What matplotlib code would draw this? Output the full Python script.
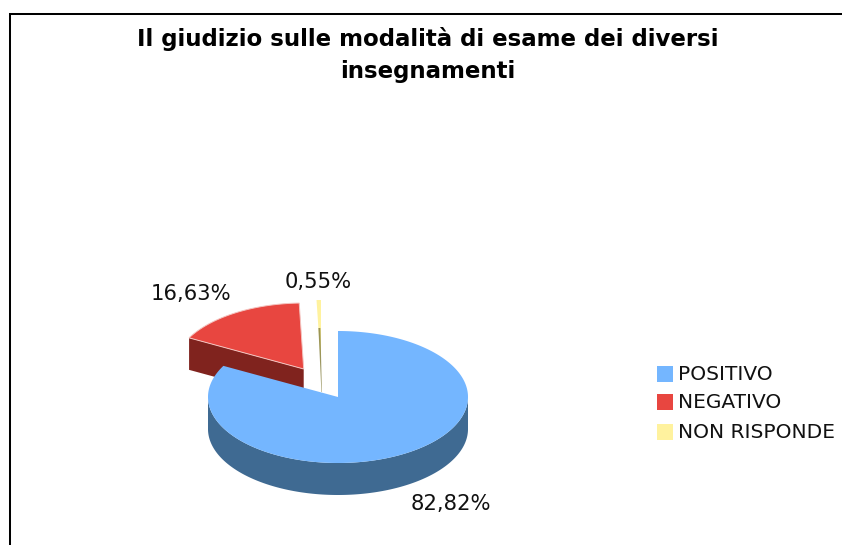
import numpy as np
import matplotlib
matplotlib.use("Agg")
import matplotlib.pyplot as plt
from matplotlib.patches import Rectangle

categories = ["POSITIVO", "NEGATIVO", "NON RISPONDE"]
values = [82.82, 16.63, 0.55]
pct_labels = ["82,82%", "16,63%", "0,55%"]
title = "Il giudizio sulle modalità di esame dei diversi\ninsegnamenti"

colors = ["#74B6FF", "#E84640", "#FFF29E"]
dark = ["#3F6A92", "#80231E", "#8A8548"]

# pie geometry, in pixels of the picture
cx, cy = 338, 397
rx, ry = 130, 66
depth = 32
offsets = [(0, 0), (-34.3, -28), (-17, -31)]


def rim(a0, a1, ox, oy, n=200):
    t = np.radians(np.linspace(a0, a1, n))
    return cx + ox + rx * np.cos(t), cy + oy - ry * np.sin(t)


fig = plt.figure(figsize=(8.42, 5.45), dpi=100)
ax = fig.add_axes([0, 0, 1, 1])
ax.set_xlim(0, 842)
ax.set_ylim(545, 0)
ax.axis("off")

# slices go clockwise from 12 o'clock
ends = 90 - np.cumsum(values) * 3.6
starts = np.concatenate(([90], ends[:-1]))

# red slice: wall along its left edge, then top
ox, oy = offsets[1]
x, y = rim(starts[1], ends[1], ox, oy)
ax.fill([cx + ox, x[0], x[0], cx + ox], [cy + oy, y[0], y[0] + depth, cy + oy + depth],
        color=dark[1], lw=0)
ax.fill(np.r_[cx + ox, x], np.r_[cy + oy, y], facecolor=colors[1], edgecolor="#F4C4C0", lw=0.7)

# yellow slice: thin top, olive inner wall showing along its lower part
ox, oy = offsets[2]
x, y = rim(starts[2], ends[2], ox, oy)
ax.fill(np.r_[cx + ox, x], np.r_[cy + oy, y], color=colors[2], lw=0)
ax.fill([cx + ox - 2.6, cx + ox - 0.6, cx + ox + 0.9, cx + ox + 0.4],
        [cy + oy - 38, cy + oy - 38, cy + oy + depth - 6, cy + oy + depth - 6],
        color=dark[2], lw=0, alpha=0.85)

# blue slice: side wall, then top
x, y = rim(180, 360, 0, 0)
ax.fill(np.r_[x, x[::-1]], np.r_[y, y[::-1] + depth], color=dark[0], lw=0)
x, y = rim(starts[0], ends[0], 0, 0, 400)
ax.fill(np.r_[cx, x], np.r_[cy, y], color=colors[0], lw=0)

# frame: runs off the right and bottom of the picture
ax.plot([10, 10, 842], [545, 14, 14], color="black", lw=1.45, solid_joinstyle="miter", clip_on=False)

ax.text(428, 55, title, ha="center", va="center", fontsize=16.5, fontweight="bold",
        color="black", linespacing=1.48)

label_pos = [(451, 504), (191, 294), (318, 282)]
for (lx, ly), s in zip(label_pos, pct_labels):
    ax.text(lx, ly, s, ha="center", va="center", fontsize=15.2, color="#111111")

legend_y = [374, 402, 432]
for name, col, ly in zip(categories, colors, legend_y):
    ax.add_patch(Rectangle((657, ly - 8), 16, 16, facecolor=col, edgecolor="none"))
    ax.text(678, ly, name, ha="left", va="center", fontsize=14.5, color="#111111")

fig.savefig("out.png", dpi=100)
